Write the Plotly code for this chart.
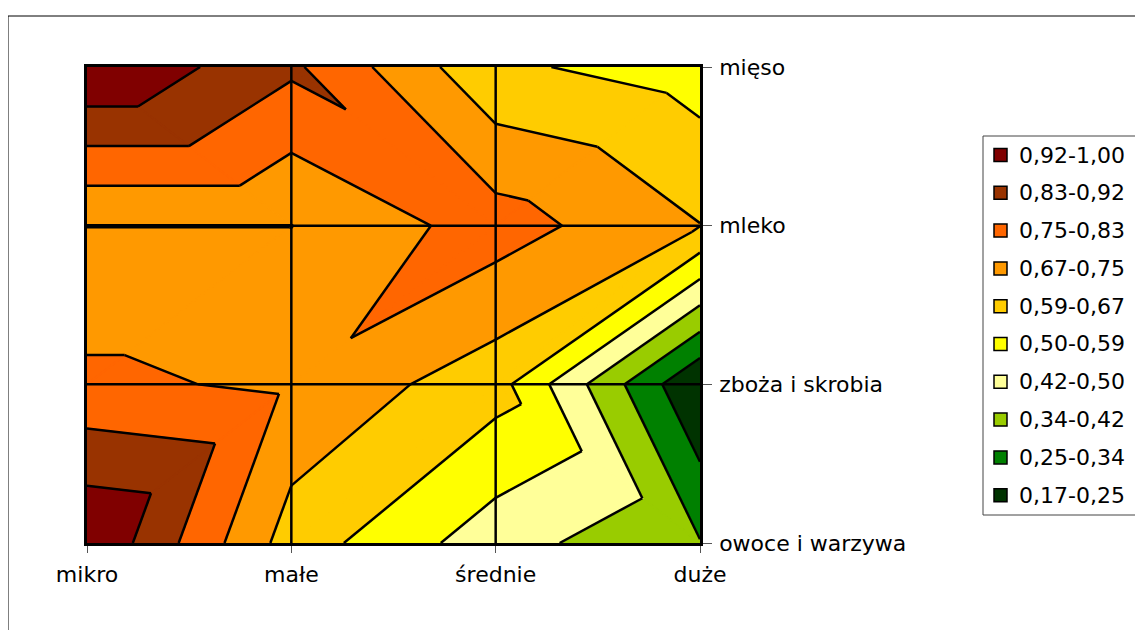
import plotly.graph_objects as go

# ---------------- data ----------------
cols = ["mikro", "małe", "średnie", "duże"]
rows = ["owoce i warzywa", "zboża i skrobia", "mleko", "mięso"]
owoce = [1.00, 0.63, 0.455, 0.34]
zboza = [0.77, 0.735, 0.62, 0.17]
mleko = [0.667, 0.667, 0.79, 0.67]
mieso = [1.00, 0.85, 0.60, 0.545]
band_labels = ["0,17-0,25", "0,25-0,34", "0,34-0,42", "0,42-0,50", "0,50-0,59",
               "0,59-0,67", "0,67-0,75", "0,75-0,83", "0,83-0,92", "0,92-1,00"]
band_colors = ["#003300", "#008000", "#99CC00", "#FFFF99", "#FFFF00",
               "#FFCC00", "#FF9900", "#FF6600", "#993300", "#800000"]

Z = [owoce, zboza, mleko, mieso]
nb = len(band_labels)
zmin = min(min(r) for r in Z)
zmax = max(max(r) for r in Z)
levels = [zmin + k * (zmax - zmin) / nb for k in range(nb + 1)]

# --------- triangulation (Excel-like: diagonal joining the larger pair) ---------
tris = []
for j in range(len(rows) - 1):
    for i in range(len(cols) - 1):
        BL = (i, j, Z[j][i]); BR = (i + 1, j, Z[j][i + 1])
        TL = (i, j + 1, Z[j + 1][i]); TR = (i + 1, j + 1, Z[j + 1][i + 1])
        if BL[2] + TR[2] >= TL[2] + BR[2]:
            tris += [[BL, BR, TR], [BL, TR, TL]]
        else:
            tris += [[BL, BR, TL], [BR, TR, TL]]


def clip(poly, lvl, above):
    out = []
    n = len(poly)
    for k in range(n):
        a = poly[k]; b = poly[(k + 1) % n]
        ina = a[2] >= lvl if above else a[2] <= lvl
        inb = b[2] >= lvl if above else b[2] <= lvl
        if ina:
            out.append(a)
        if ina != inb:
            t = (lvl - a[2]) / (b[2] - a[2])
            out.append((a[0] + t * (b[0] - a[0]), a[1] + t * (b[1] - a[1]), lvl))
    return out


fig = go.Figure()

# filled bands
for b in range(nb):
    xs, ys = [], []
    for tri in tris:
        p = clip(tri, levels[b], True)
        if len(p) >= 3:
            p = clip(p, levels[b + 1], False)
        if len(p) >= 3:
            xs += [q[0] for q in p] + [p[0][0], None]
            ys += [q[1] for q in p] + [p[0][1], None]
    if xs:
        fig.add_trace(go.Scatter(x=xs, y=ys, mode="lines", fill="toself",
                                 fillcolor=band_colors[b],
                                 line=dict(width=1.5, color=band_colors[b]),
                                 hoverinfo="skip", showlegend=False))

# contour lines
lx, ly = [], []
for tri in tris:
    for lvl in levels[1:-1]:
        pts = []
        for k in range(3):
            a = tri[k]; c = tri[(k + 1) % 3]
            if (a[2] - lvl) * (c[2] - lvl) < 0:
                t = (lvl - a[2]) / (c[2] - a[2])
                pts.append((a[0] + t * (c[0] - a[0]), a[1] + t * (c[1] - a[1])))
        if len(pts) == 2:
            lx += [pts[0][0], pts[1][0], None]
            ly += [pts[0][1], pts[1][1], None]
fig.add_trace(go.Scatter(x=lx, y=ly, mode="lines", line=dict(color="black", width=2.5),
                         hoverinfo="skip", showlegend=False))

# grid lines on top
gx, gy = [], []
for i in range(1, len(cols) - 1):
    gx += [i, i, None]; gy += [0, len(rows) - 1, None]
for j in range(1, len(rows) - 1):
    gx += [0, len(cols) - 1, None]; gy += [j, j, None]
fig.add_trace(go.Scatter(x=gx, y=gy, mode="lines", line=dict(color="black", width=2.5),
                         hoverinfo="skip", showlegend=False))

FONT = "DejaVu Sans"
OFF = 8  # page body margin
W, H = 1143 - OFF, 630 - OFF
L, R, T, B = 87 - OFF, 700 - OFF, 67 - OFF, 543 - OFF
fig.update_layout(
    width=W, height=H,
    margin=dict(l=L, r=W - R, t=T, b=H - B, pad=0),
    paper_bgcolor="white", plot_bgcolor="white",
    font=dict(family=FONT, size=22, color="black"),
    showlegend=False,
    xaxis=dict(range=[0, len(cols) - 1], tickvals=list(range(len(cols))), ticktext=cols,
               showgrid=False, zeroline=False, showline=True, mirror=True,
               linecolor="black", linewidth=2.5, ticks="outside", ticklen=7,
               tickcolor="#555", tickwidth=1, ticklabelstandoff=3),
    yaxis=dict(range=[0, len(rows) - 1], tickvals=list(range(len(rows))), ticktext=rows,
               side="right", showgrid=False, zeroline=False, showline=True, mirror=True,
               linecolor="black", linewidth=2.5, ticks="outside", ticklen=9,
               tickcolor="#555", tickwidth=1, ticklabelstandoff=3),
)


def px(x):
    return (x - OFF - L) / (R - L)


def py(y):
    return (B - (y - OFF)) / (B - T)


shapes = [dict(type="rect", xref="paper", yref="paper", x0=px(8), x1=px(1200),
               y0=py(700), y1=py(16), line=dict(color="black", width=1), layer="below"),
          dict(type="rect", xref="paper", yref="paper", x0=px(983), x1=px(1160),
               y0=py(515), y1=py(136), line=dict(color="#444", width=1))]
annotations = []
for k in range(nb):
    b = nb - 1 - k
    yc = 155 + k * 37.8
    shapes.append(dict(type="rect", xref="paper", yref="paper",
                       x0=px(994), x1=px(1007), y0=py(yc + 6.5), y1=py(yc - 6.5),
                       fillcolor=band_colors[b], line=dict(color="black", width=1.5)))
    annotations.append(dict(xref="paper", yref="paper", x=px(1017), y=py(yc),
                            text=band_labels[b], showarrow=False, xanchor="left",
                            yanchor="middle", font=dict(family=FONT, size=22)))
fig.update_layout(shapes=shapes, annotations=annotations)

fig.write_html("out.html")
